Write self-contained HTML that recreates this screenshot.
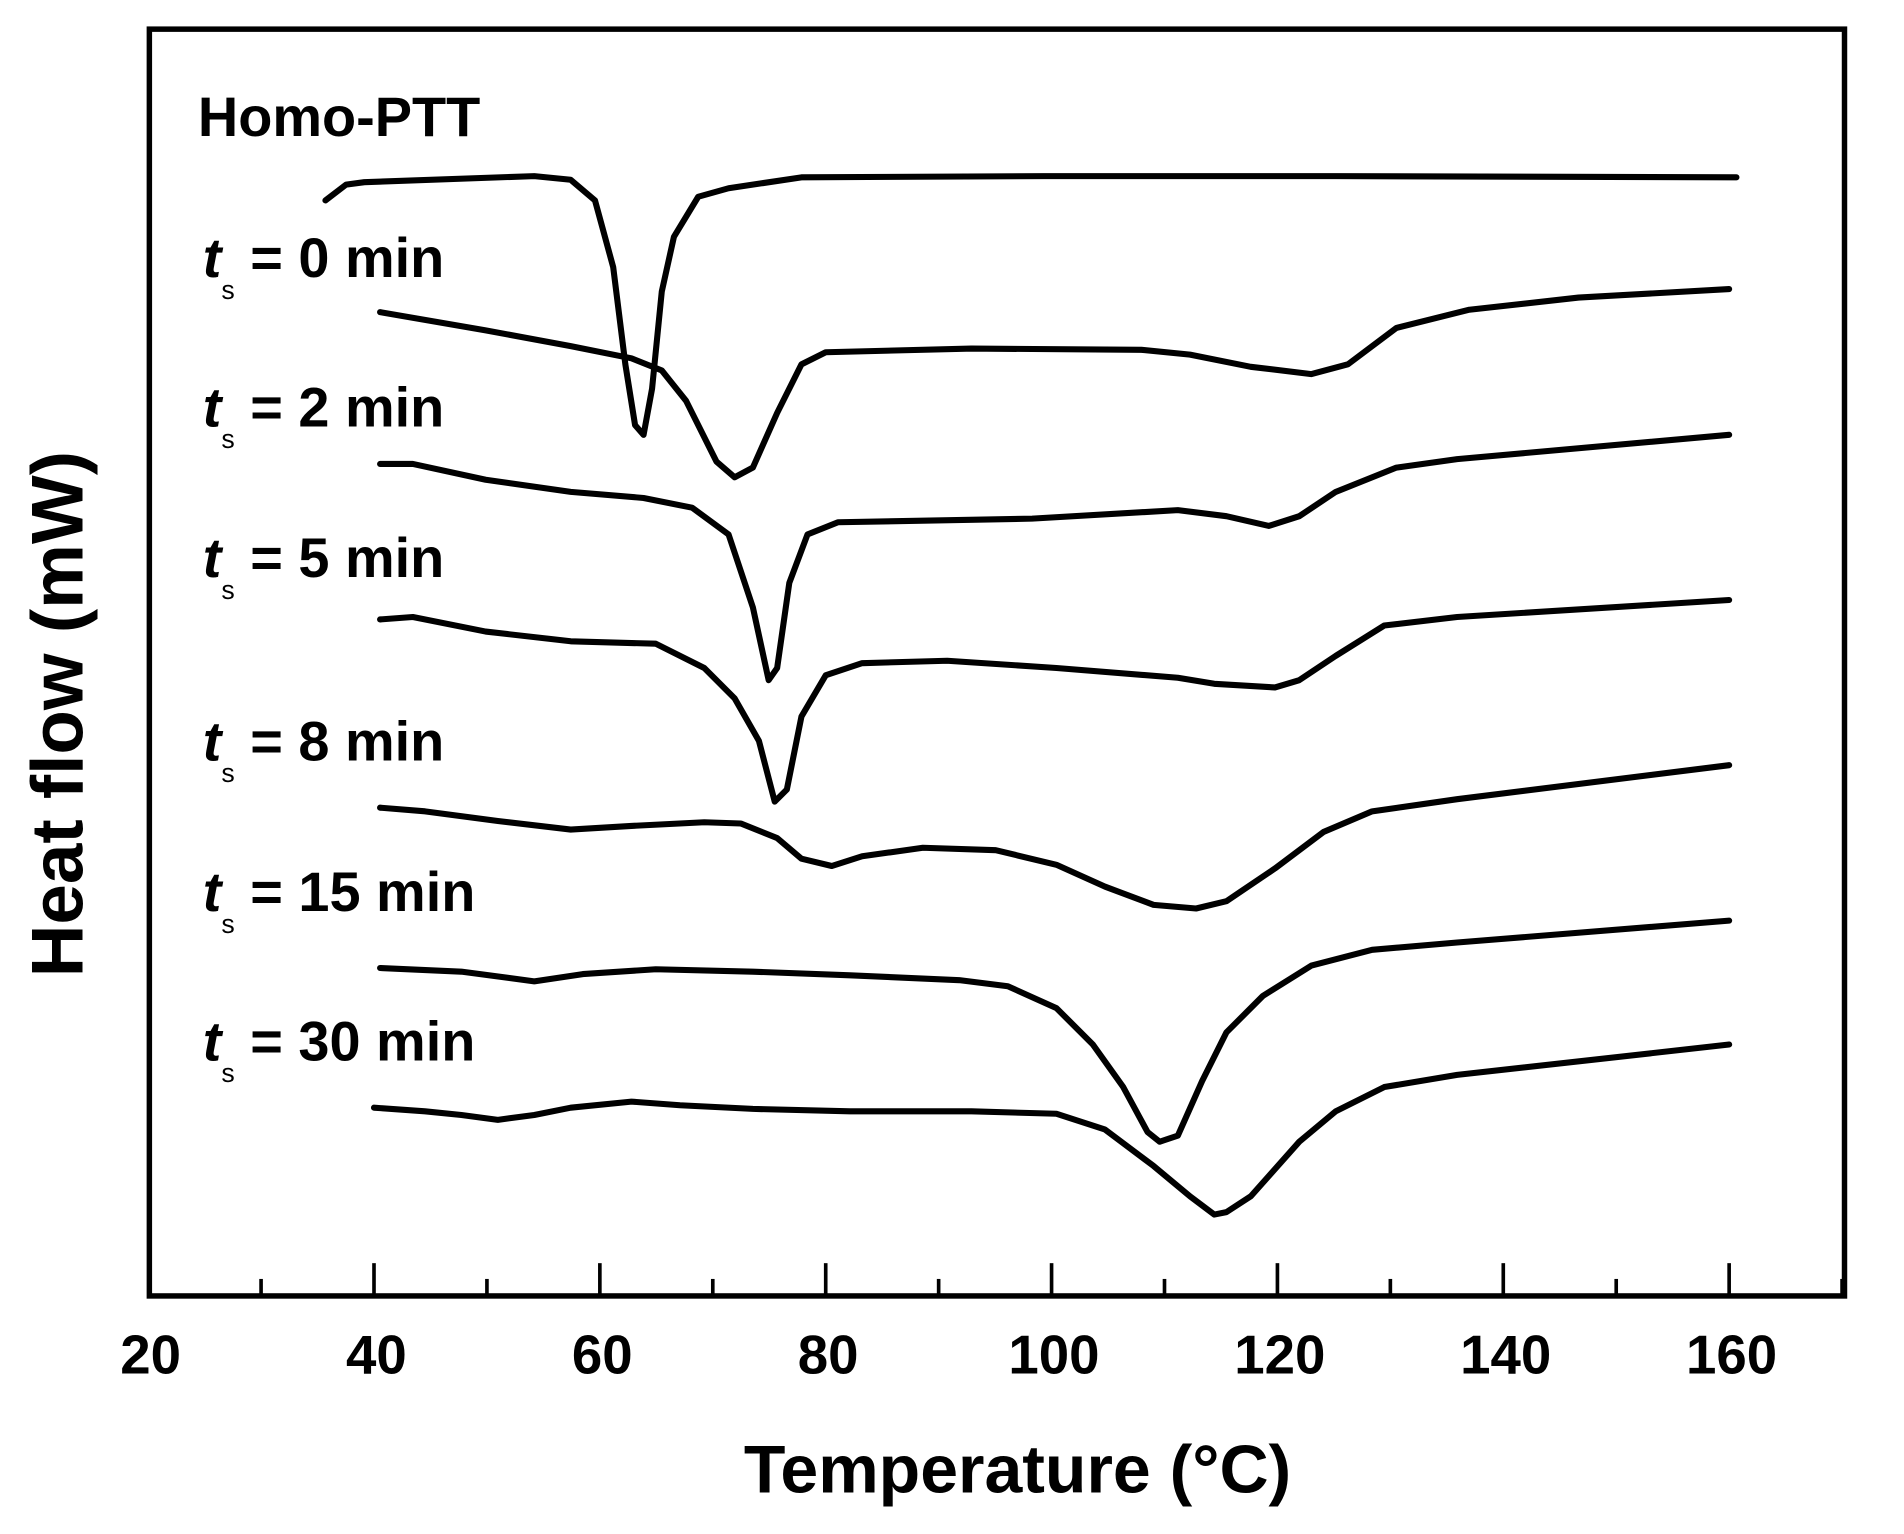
<!DOCTYPE html>
<html><head><style>html,body{margin:0;padding:0;background:#fff}svg{display:block}</style></head>
<body>
<svg width="1904" height="1534" viewBox="0 0 1568 1263" preserveAspectRatio="none" xmlns="http://www.w3.org/2000/svg" font-family="Liberation Sans, Arial, sans-serif" font-weight="bold">
<rect x="123" y="24" width="1396" height="1043" fill="none" stroke="#000" stroke-width="4.5"/>
<g stroke="#000" stroke-width="3">
<line x1="308" y1="1067" x2="308" y2="1040"/><line x1="494" y1="1067" x2="494" y2="1040"/><line x1="680" y1="1067" x2="680" y2="1040"/><line x1="866" y1="1067" x2="866" y2="1040"/><line x1="1052" y1="1067" x2="1052" y2="1040"/><line x1="1238" y1="1067" x2="1238" y2="1040"/><line x1="1424" y1="1067" x2="1424" y2="1040"/>
<line x1="215" y1="1067" x2="215" y2="1053"/><line x1="401" y1="1067" x2="401" y2="1053"/><line x1="587" y1="1067" x2="587" y2="1053"/><line x1="773" y1="1067" x2="773" y2="1053"/><line x1="959" y1="1067" x2="959" y2="1053"/><line x1="1145" y1="1067" x2="1145" y2="1053"/><line x1="1331" y1="1067" x2="1331" y2="1053"/><line x1="1517" y1="1067" x2="1517" y2="1053"/>
</g>
<g font-size="45" text-anchor="middle">
<text x="124" y="1131">20</text><text x="310" y="1131">40</text><text x="496" y="1131">60</text><text x="682" y="1131">80</text><text x="868" y="1131">100</text><text x="1054" y="1131">120</text><text x="1240" y="1131">140</text><text x="1426" y="1131">160</text>
</g>
<text x="838" y="1229" font-size="56" text-anchor="middle">Temperature (°C)</text>
<text transform="translate(68,588) rotate(-90)" font-size="60" text-anchor="middle">Heat flow (mW)</text>
<text x="163" y="112" font-size="46">Homo-PTT</text>
<g font-size="46">
<text x="167" y="228"><tspan font-style="italic">t</tspan><tspan font-size="22" dy="18" font-weight="normal">s</tspan><tspan dy="-18"> = 0 min</tspan></text>
<text x="167" y="351"><tspan font-style="italic">t</tspan><tspan font-size="22" dy="18" font-weight="normal">s</tspan><tspan dy="-18"> = 2 min</tspan></text>
<text x="167" y="475"><tspan font-style="italic">t</tspan><tspan font-size="22" dy="18" font-weight="normal">s</tspan><tspan dy="-18"> = 5 min</tspan></text>
<text x="167" y="626"><tspan font-style="italic">t</tspan><tspan font-size="22" dy="18" font-weight="normal">s</tspan><tspan dy="-18"> = 8 min</tspan></text>
<text x="167" y="750"><tspan font-style="italic">t</tspan><tspan font-size="22" dy="18" font-weight="normal">s</tspan><tspan dy="-18"> = 15 min</tspan></text>
<text x="167" y="873"><tspan font-style="italic">t</tspan><tspan font-size="22" dy="18" font-weight="normal">s</tspan><tspan dy="-18"> = 30 min</tspan></text>
</g>
<g fill="none" stroke="#000" stroke-width="5" stroke-linejoin="round" stroke-linecap="round">
<polyline points="268,165 285,152 300,150 440,145 470,148 490,165 505,220 515,300 523,350 530,358 537,320 545,240 555,195 575,162 600,155 660,146 860,145 1100,145 1430,146"/>
<polyline points="313,257 400,272 470,285 520,295 545,305 565,330 590,380 605,393 620,385 640,340 660,300 680,290 800,287 940,288 980,292 1030,302 1080,308 1110,300 1150,270 1210,255 1300,245 1424,238"/>
<polyline points="313,382 340,382 400,395 470,405 530,410 570,418 600,440 620,500 633,560 640,550 650,480 665,440 690,430 850,427 970,420 1010,425 1045,433 1070,425 1100,405 1150,385 1200,378 1424,358"/>
<polyline points="313,510 340,508 400,520 470,528 540,530 580,550 605,575 625,610 638,660 648,650 660,590 680,556 710,546 780,544 870,550 970,558 1000,563 1050,566 1070,560 1100,540 1140,515 1200,508 1424,494"/>
<polyline points="313,665 350,668 410,676 470,683 520,680 580,677 610,678 640,690 660,707 685,713 710,705 760,698 820,700 870,712 910,730 950,745 985,748 1010,742 1050,715 1090,685 1130,668 1200,658 1424,630"/>
<polyline points="313,797 380,800 440,808 480,802 540,798 620,800 700,803 790,807 830,812 870,830 900,860 925,895 945,932 955,940 970,935 990,890 1010,850 1040,820 1080,795 1130,782 1200,776 1424,758"/>
<polyline points="308,912 350,915 380,918 410,922 440,918 470,912 520,907 560,910 620,913 700,915 800,915 870,917 910,930 950,960 980,985 1000,1000 1010,998 1030,985 1070,940 1100,915 1140,895 1200,885 1424,860"/>
</g>
</svg>
</body></html>
